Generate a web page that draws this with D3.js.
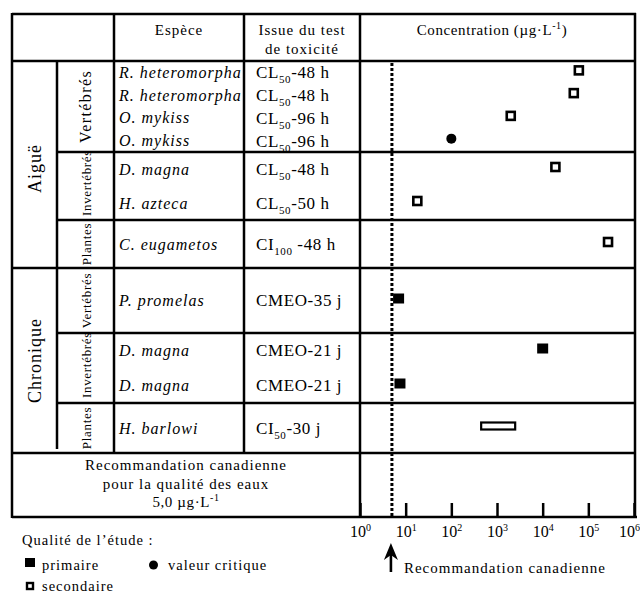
<!DOCTYPE html>
<html><head><meta charset="utf-8">
<script src="https://cdn.jsdelivr.net/npm/d3@7"></script>
<style>
body{margin:0;background:#fff}
svg{display:block}
text{font-family:"Liberation Serif","Times New Roman",serif;fill:#000}
</style>
</head><body><svg id="c" width="640" height="593"></svg>
<script>
// ---------------- DATA ----------------
const exposureTypes = ["Aiguë", "Chronique"];
const organismGroups = [
  {exposure: "Aiguë", name: "Vertébrés"},
  {exposure: "Aiguë", name: "Invertébrés"},
  {exposure: "Aiguë", name: "Plantes"},
  {exposure: "Chronique", name: "Vertébrés"},
  {exposure: "Chronique", name: "Invertébrés"},
  {exposure: "Chronique", name: "Plantes"}
];
const rowGroup = [0, 0, 0, 0, 1, 1, 2, 3, 4, 4, 5];
const species = ["R. heteromorpha", "R. heteromorpha", "O. mykiss", "O. mykiss", "D. magna", "H. azteca",
  "C. eugametos", "P. promelas", "D. magna", "D. magna", "H. barlowi"];
const endpointBase = ["CL", "CL", "CL", "CL", "CL", "CL", "CI", "CMEO", "CMEO", "CMEO", "CI"];
const endpointSub = ["50", "50", "50", "50", "50", "50", "100", "", "", "", "50"];
const endpointSuffix = ["-48 h", "-48 h", "-96 h", "-96 h", "-48 h", "-50 h", " -48 h", "-35 j", "-21 j", "-21 j", "-30 j"];
const concLow = [62000, 48000, 2000, 100, 19000, 18, 270000, 7, 10000, 7.5, 450];
const concHigh = [null, null, null, null, null, null, null, null, null, null, 2500];
const quality = ["secondaire", "secondaire", "secondaire", "critique", "secondaire", "secondaire",
  "secondaire", "primaire", "primaire", "primaire", "secondaire"];
const tickExponents = [0, 1, 2, 3, 4, 5, 6];
const guideline = 5.0;

// ---------------- LAYOUT ----------------
const svg = d3.select("#c");
const X0 = 12, XG = 57, XS = 114, XT = 244, XC = 360, XR = 635;
const YT = 14, YH = 61, YB = 453, YA = 516;
const sectionHeights = [91, 68, 48, 65, 70, 50];
const FONT_LS = "1px";

const sections = [];
let acc = YH;
organismGroups.forEach((g, i) => {
  const n = rowGroup.filter(r => r === i).length;
  sections.push({...g, top: acc, bottom: acc + sectionHeights[i], n});
  acc += sectionHeights[i];
});
const rowY = rowGroup.map((gi, i) => {
  const s = sections[gi];
  const idx = rowGroup.slice(0, i).filter(r => r === gi).length;
  return s.top + (idx + 0.5) * (s.bottom - s.top) / s.n;
});

const x = d3.scaleLog().domain([1, 1e6]).range([XC, 634]);

// ---------------- GRID ----------------
const grid = svg.append("g").attr("stroke", "#000").attr("stroke-width", 2.5).attr("fill", "none");
function hl(x1, x2, y) { grid.append("line").attr("x1", x1).attr("x2", x2).attr("y1", y).attr("y2", y); }
function vl(xx, y1, y2) { grid.append("line").attr("x1", xx).attr("x2", xx).attr("y1", y1).attr("y2", y2); }
hl(X0, XR + 1, YT);
hl(X0, XR + 1, YH);
sections.forEach((s, i) => {
  if (i === sections.length - 1) return;
  const expChange = sections[i + 1].exposure !== s.exposure;
  hl(expChange ? X0 : XG, XR + 1, s.bottom);
});
hl(X0, XR + 1, YB);
hl(X0, XR + 2, YA + 1);
vl(X0, YT - 1, YA + 2);
vl(XG, YH, YB - 4);
vl(XS, YT, YB);
vl(XT, YT, YB);
vl(XC, YT, YA + 1);
vl(XR, YT - 1, YA + 2);

// ---------------- HEADER ----------------
svg.append("text").attr("x", (XS + XT) / 2).attr("y", 35).attr("text-anchor", "middle")
  .attr("font-size", 15).attr("letter-spacing", FONT_LS).text("Espèce");
svg.append("text").attr("x", (XT + XC) / 2).attr("y", 35).attr("text-anchor", "middle")
  .attr("font-size", 15).attr("letter-spacing", FONT_LS).text("Issue du test");
svg.append("text").attr("x", (XT + XC) / 2).attr("y", 54).attr("text-anchor", "middle")
  .attr("font-size", 15).attr("letter-spacing", FONT_LS).text("de toxicité");
const ch = svg.append("text").attr("x", 492).attr("y", 35).attr("text-anchor", "middle")
  .attr("font-size", 15).attr("letter-spacing", "0.6px");
ch.append("tspan").text("Concentration (µg·L");
ch.append("tspan").attr("font-size", 10).attr("dy", -6).text("-1");
ch.append("tspan").attr("dy", 6).text(")");

// ---------------- ROW LABELS ----------------
exposureTypes.forEach((e, k) => {
  const ss = sections.filter(s => s.exposure === e);
  const cy = (ss[0].top + ss[ss.length - 1].bottom) / 2 + (k === 0 ? 4 : 0);
  svg.append("text").attr("transform", `translate(${(X0 + XG) / 2 + 6},${cy}) rotate(-90)`)
    .attr("text-anchor", "middle").attr("font-size", 18).attr("letter-spacing", FONT_LS).text(e);
});
sections.forEach((s, i) => {
  const big = s.n >= 4;
  const cy = (s.top + s.bottom) / 2 - (s.name === "Invertébrés" ? 3 : 0);
  svg.append("text").attr("transform", `translate(${(XG + XS) / 2 + 5},${cy}) rotate(-90)`)
    .attr("text-anchor", "middle").attr("font-size", big ? 16 : 13)
    .attr("letter-spacing", big ? "1.4px" : "0.7px").text(s.name);
});

// species
svg.append("g").selectAll("text").data(species).join("text")
  .attr("x", XS + 5).attr("y", (d, i) => rowY[i]).attr("dy", "0.35em")
  .attr("font-size", 16).attr("font-style", "italic").attr("letter-spacing", "1px")
  .text(d => d);

// endpoints
const ep = svg.append("g").selectAll("text").data(species).join("text")
  .attr("x", XT + 12).attr("y", (d, i) => rowY[i]).attr("dy", "0.35em")
  .attr("font-size", 17).attr("letter-spacing", "0.6px");
ep.append("tspan").text((d, i) => endpointBase[i]);
ep.append("tspan").attr("font-size", 11).attr("dy", (d, i) => endpointSub[i] ? 5 : 0).text((d, i) => endpointSub[i]);
ep.append("tspan").attr("dy", (d, i) => endpointSub[i] ? -5 : 0).text((d, i) => endpointSuffix[i]);

// ---------------- GUIDELINE ----------------
svg.append("line").attr("x1", x(guideline)).attr("x2", x(guideline)).attr("y1", YH + 2).attr("y2", YA)
  .attr("stroke", "#000").attr("stroke-width", 3).attr("stroke-dasharray", "3,2");

// ---------------- MARKS ----------------
const marks = svg.append("g");
species.forEach((s, i) => {
  const cy = rowY[i] - 2;
  if (concHigh[i] != null) {
    marks.append("rect").attr("x", x(concLow[i])).attr("y", cy - 3.5)
      .attr("width", x(concHigh[i]) - x(concLow[i])).attr("height", 7)
      .attr("fill", "#fff").attr("stroke", "#000").attr("stroke-width", 2.2);
  } else if (quality[i] === "secondaire") {
    marks.append("rect").attr("x", x(concLow[i]) - 4).attr("y", cy - 4).attr("width", 8).attr("height", 8)
      .attr("fill", "#fff").attr("stroke", "#000").attr("stroke-width", 2.6);
  } else if (quality[i] === "primaire") {
    marks.append("rect").attr("x", x(concLow[i]) - 5.5).attr("y", cy - 5).attr("width", 11).attr("height", 10)
      .attr("fill", "#000");
  } else {
    marks.append("circle").attr("cx", x(concLow[i])).attr("cy", cy).attr("r", 5).attr("fill", "#000");
  }
});

// ---------------- AXIS ----------------
const axis = d3.axisBottom(x).tickValues(tickExponents.map(e => Math.pow(10, e)))
  .tickSizeInner(-13).tickSizeOuter(0).tickFormat("");
const ag = svg.append("g").attr("transform", `translate(0,${YA})`).call(axis);
ag.select(".domain").remove();
ag.selectAll(".tick line").attr("stroke", "#000").attr("stroke-width", 2.5);
ag.selectAll(".tick text").remove();
const lastTick = Math.pow(10, tickExponents[tickExponents.length - 1]);
ag.selectAll(".tick").each(function (d) {
  const isLast = d === lastTick;
  const t = d3.select(this).append("text").attr("y", 21)
    .attr("x", isLast ? 640 - x(d) - 0.5 : 0)
    .attr("text-anchor", isLast ? "end" : "middle")
    .attr("font-size", 16).attr("fill", "#000").attr("font-family", "Liberation Serif");
  t.append("tspan").text("10");
  t.append("tspan").attr("font-size", 10).attr("dy", -6).text(Math.round(Math.log10(d)));
});

// ---------------- BOTTOM TEXT ----------------
const recLines = ["Recommandation canadienne", "pour la qualité des eaux"];
recLines.forEach((l, i) => {
  svg.append("text").attr("x", (X0 + XC) / 2).attr("y", 470 + i * 18.5).attr("text-anchor", "middle")
    .attr("font-size", 15).attr("letter-spacing", FONT_LS).text(l);
});
const r3 = svg.append("text").attr("x", (X0 + XC) / 2).attr("y", 507).attr("text-anchor", "middle")
  .attr("font-size", 15).attr("letter-spacing", "0.6px");
r3.append("tspan").text("5,0 µg·L");
r3.append("tspan").attr("font-size", 10).attr("dy", -6).text("-1");

// arrow
const ax = x(guideline) - 1;
svg.append("line").attr("x1", ax).attr("x2", ax).attr("y1", 572).attr("y2", 552).attr("stroke", "#000").attr("stroke-width", 2.6);
svg.append("path").attr("d", `M${ax},543 L${ax - 7},560 L${ax},555 L${ax + 7},560 Z`).attr("fill", "#000");
svg.append("text").attr("x", ax + 13).attr("y", 573).attr("font-size", 15).attr("letter-spacing", FONT_LS)
  .text("Recommandation canadienne");

// legend
svg.append("text").attr("x", 22).attr("y", 545).attr("font-size", 14.5).attr("letter-spacing", FONT_LS).text("Qualité de l’étude :");
svg.append("rect").attr("x", 25).attr("y", 558).attr("width", 10).attr("height", 9).attr("fill", "#000");
svg.append("text").attr("x", 42).attr("y", 570).attr("font-size", 14.5).attr("letter-spacing", FONT_LS).text("primaire");
svg.append("circle").attr("cx", 153.5).attr("cy", 565).attr("r", 4.5).attr("fill", "#000");
svg.append("text").attr("x", 168).attr("y", 570).attr("font-size", 14.5).attr("letter-spacing", FONT_LS).text("valeur critique");
svg.append("rect").attr("x", 27).attr("y", 583).attr("width", 6).attr("height", 6)
  .attr("fill", "#fff").attr("stroke", "#000").attr("stroke-width", 2.4);
svg.append("text").attr("x", 42).attr("y", 591).attr("font-size", 14.5).attr("letter-spacing", FONT_LS).text("secondaire");
</script>
</body></html>
